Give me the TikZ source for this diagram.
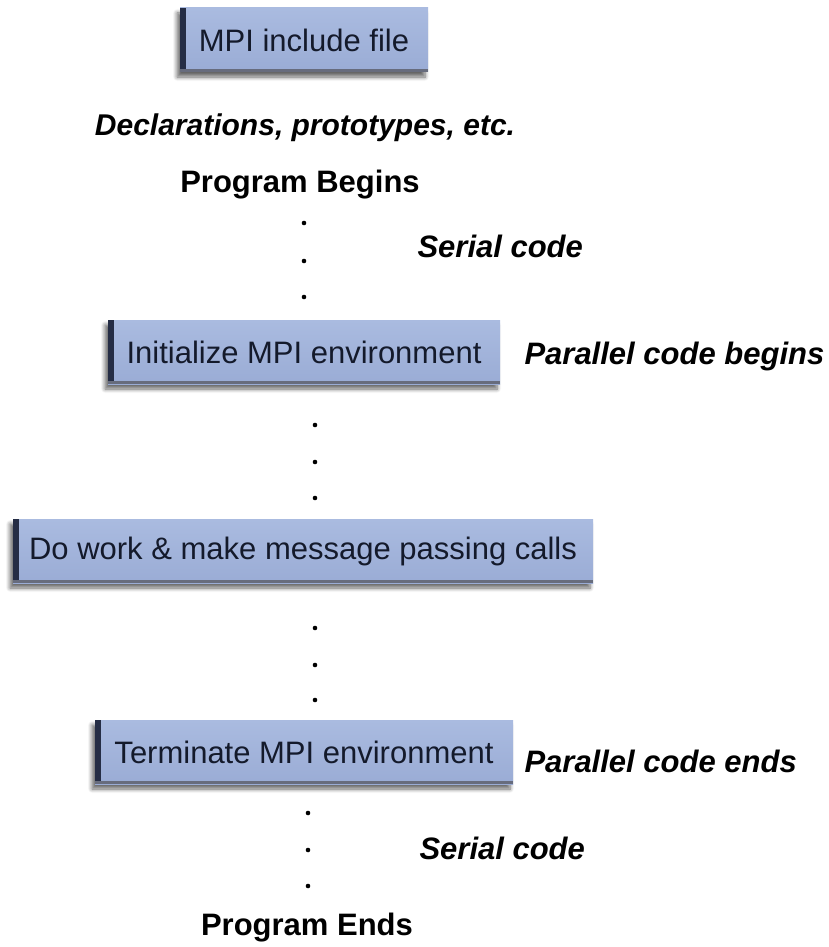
\documentclass[tikz,border=0pt]{standalone}
\usepackage{fontspec}
\setmainfont{Liberation Sans}
\usetikzlibrary{shadows.blur}
\definecolor{cface}{HTML}{9AACD5}
\definecolor{cfacetop}{HTML}{AABBE0}
\definecolor{cedge}{HTML}{252D45}
\definecolor{cink}{HTML}{141A2B}
\tikzset{
  every picture/.style={font=\fontsize{31}{37}\selectfont},
  mpibox/.style={draw=none, top color=cfacetop, bottom color=cface, text=cink,
    minimum height=64pt, inner sep=0pt,
    blur shadow={shadow xshift=-3pt, shadow yshift=-5pt, shadow blur steps=6, shadow blur radius=4pt, shadow opacity=60},
    path picture={
      \fill[cedge] (path picture bounding box.south west) rectangle ([xshift=6pt]path picture bounding box.north west);
      \fill[cedge!70] (path picture bounding box.south west) rectangle ([yshift=3pt]path picture bounding box.south east);
    }},
  stage/.style={font=\fontsize{31}{37}\selectfont\bfseries},
  remark/.style={font=\fontsize{31}{37}\selectfont\bfseries\itshape, anchor=west},
}

\begin{document}
\begin{tikzpicture}[x=1pt, y=-1pt,
  dot/.style={fill=black}]
  \useasboundingbox (0,0) rectangle (829,947);
  % ---- header
  \node[mpibox, minimum width=248pt] (incl) at (304,40) {MPI include file};
  \node[font=\fontsize{30}{36}\selectfont\bfseries\itshape] (decl) at (305,128) {Declarations, prototypes, etc.};
  \node[stage] (pbeg) at (300,185) {Program Begins};
  % serial part
  \foreach \yy in {223,261,297} \fill[dot] (304,\yy) circle (2.3);
  \node[remark] (ser1) at (414,246) {Serial code};
  % ---- parallel part
  \node[mpibox, minimum width=392pt] (init) at (304,352) {Initialize MPI environment};
  \node[remark] (pbegin) at (521,356) {Parallel code begins};
  \foreach \yy in {425,462,498} \fill[dot] (315,\yy) circle (2.3);
  \node[mpibox, minimum width=580pt] (work) at (303,551) {Do work \& make message passing calls};
  \foreach \yy in {628,665,700} \fill[dot] (315,\yy) circle (2.3);
  \node[mpibox, minimum width=418pt] (term) at (304,752) {Terminate MPI environment};
  \node[remark] (pend) at (521,761) {Parallel code ends};
  % ---- closing
  \foreach \yy in {813,850,886} \fill[dot] (308,\yy) circle (2.3);
  \node[remark] (ser2) at (416,848) {Serial code};
  \node[stage] (pend2) at (307,928) {Program Ends};
\end{tikzpicture}
\end{document}
